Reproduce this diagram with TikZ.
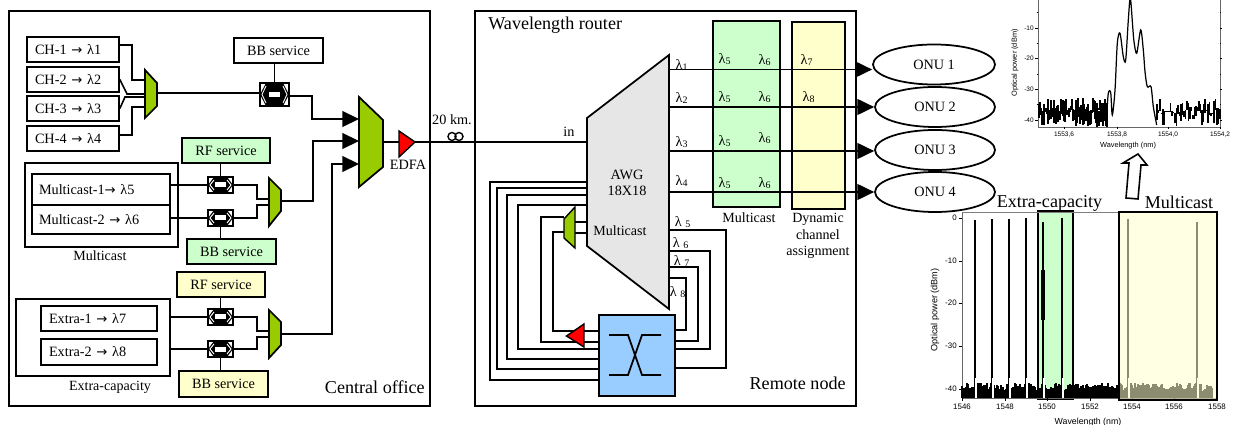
\documentclass[tikz,border=0pt]{standalone}
\usepackage{fontspec}
\setmainfont{Liberation Serif}
\setsansfont{Liberation Sans}
\newfontfamily\arrowfont{DejaVu Sans}
\usetikzlibrary{arrows.meta,shapes.geometric}

\def\px{0.02cm}
\definecolor{mcgreen}{RGB}{204,255,204}
\definecolor{exyellow}{RGB}{255,255,204}
\definecolor{muxgreen}{RGB}{153,204,0}
\definecolor{swblue}{RGB}{153,204,255}
\definecolor{awggray}{RGB}{230,230,230}
\newcommand{\boxfont}{\fontsize{8.1}{9.5}\selectfont}
\newcommand{\tagfont}{\fontsize{8}{9.4}\selectfont}
\newcommand{\bigfont}{\fontsize{10.3}{12}\selectfont}
\newcommand{\tickfont}{\sffamily\fontsize{3.7}{4.2}\selectfont}
\newcommand{\wideticks}{\sffamily\fontsize{4.5}{5}\selectfont}
\newcommand{\toarrow}{{\arrowfont\fontsize{7.5}{9}\selectfont →}}
\tikzset{
  wh/.style 2 args={minimum width=#1*\px,minimum height=#2*\px},
  frame/.style={draw,line width=1pt},
  block/.style={draw,line width=1pt,inner sep=0pt,font=\boxfont},
  leftblock/.style 2 args={draw,line width=1pt,inner ysep=0pt,inner xsep=8*\px,
    minimum height=#2*\px,text width=(#1-16)*\px,align=left,font=\boxfont},
  group/.style={draw,line width=.9pt,inner sep=0pt},
  link/.style={line width=.9pt},
  muxshape/.style={draw,fill=muxgreen,line width=1pt,line join=miter},
  ampshape/.style={draw,fill=red,line width=.8pt},
  tag/.style={inner sep=0pt,font=\tagfont},
  title/.style={inner sep=0pt,font=\bigfont},
  onu/.style={ellipse,draw,line width=1pt,inner sep=0pt,font=\boxfont},
  lam/.style={inner sep=0pt,font=\boxfont},
  tick/.style={inner sep=0pt,font=\tickfont},
  spectrum/.style={line width=.6pt},
  axisline/.style={line width=.5pt,black!60},
  >={Triangle[length=9.5pt,width=9pt]}
}
%% name, x, y, half width, half height
\newcommand{\coupler}[5]{
  \node[draw,line width=.8pt,fill=white,inner sep=0pt,wh={2*#4}{2*#5}] (#1) at (#2,#3) {};
  \begin{scope}[shift={(#1.center)}]
    \fill (-#4,0)--(-#4+6,-#5)--(#4-6,-#5)--(#4,0)--(#4-6,#5)--(-#4+6,#5)--cycle;
    \draw[white,line width=.5pt] (-#4+6,-#5+3)--(-#4+2,0)--(-#4+6,#5-3);
    \draw[white,line width=.5pt] (#4-6,-#5+3)--(#4-2,0)--(#4-6,#5-3);
    \fill[white] (-5.5,-2.5) rectangle (5.5,2.5);
  \end{scope}
}

\begin{document}
\begin{tikzpicture}[x=\px,y=-\px]
\path[use as bounding box,clip] (0,0) rectangle (1233,425);

%%Central office
\node[frame,wh={421}{395},inner sep=0pt] (office) at (219.5,208.5) {};
\node[title,anchor=east] (officetag) at (425,387) {Central office};

%%Channels
\node[leftblock={92}{25}] (ch1) at (73,49.5) {CH-1 \toarrow{} λ1};
\node[leftblock={92}{25}] (ch2) at (73,79.5) {CH-2 \toarrow{} λ2};
\node[leftblock={92}{25}] (ch3) at (73,108.5) {CH-3 \toarrow{} λ3};
\node[leftblock={92}{25}] (ch4) at (73,138.5) {CH-4 \toarrow{} λ4};
\draw[muxshape] (145,70)--(157,83)--(157,106)--(145,118)--cycle;
\coordinate (mux1a) at (145,80);
\coordinate (mux1b) at (145,94);
\coordinate (mux1c) at (145,97);
\coordinate (mux1d) at (145,107);
\coordinate (mux1out) at (157,93);
\draw[link] (ch1.east|-0,45)--(132,45)|-(mux1a);
\draw[link] (ch2.east)--(127,94)--(mux1b);
\draw[link] (ch3.east)--(125,97)--(mux1c);
\draw[link] (ch4.east|-0,135)--(132,135)|-(mux1d);
\node[block,wh={89}{25}] (bb1) at (278.5,50.5) {BB service};
\coupler{cp1}{274.5}{94.5}{14.5}{11.5}
\draw[link] (bb1.south-|cp1)--(cp1.north);
\draw[link] (mux1out)--(cp1.west|-mux1out);

%%Multicast
\node[group,wh={153}{84}] (mcgroup) at (101.5,205) {};
\node[tag] (mctag) at (100,256) {Multicast};
\node[leftblock={140}{31},inner xsep=7*\px] (mc1) at (101,189.5) {Multicast-1\toarrow{} λ5};
\node[leftblock={140}{29},inner xsep=7*\px] (mc2) at (101,219.5) {Multicast-2 \toarrow{} λ6};
\node[block,fill=mcgreen,wh={88}{25}] (rf2) at (226,150.5) {RF service};
\node[block,fill=mcgreen,wh={89}{25}] (bb2) at (231.5,251.5) {BB service};
\coupler{cp2}{220.5}{185}{12.5}{8}
\coupler{cp3}{220.5}{218}{12.5}{8}
\draw[muxshape] (269,178)--(281,190)--(281,211)--(269,226)--cycle;
\coordinate (mux2a) at (269,199);
\coordinate (mux2b) at (269,205);
\coordinate (mux2out) at (281,201);
\draw[link] (mc1.east|-cp2)--(cp2.west);
\draw[link] (mc2.east|-cp3)--(cp3.west);
\draw[link] (rf2.south-|cp2)--(cp2.north);
\draw[link] (bb2.north-|cp3)--(cp3.south);
\draw[link] (cp2.east)--(257,185)|-(mux2a);
\draw[link] (cp3.east)--(257,218)|-(mux2b);

%%Extra-capacity
\node[group,wh={154}{77}] (exgroup) at (93,337.5) {};
\node[tag] (extag) at (110,387) {Extra-capacity};
\node[leftblock={116}{25}] (ex1) at (99,318.5) {Extra-1 \toarrow{} λ7};
\node[leftblock={116}{26}] (ex2) at (99,352) {Extra-2 \toarrow{} λ8};
\node[block,fill=exyellow,wh={88}{25}] (rf3) at (221,284.5) {RF service};
\node[block,fill=exyellow,wh={89}{26}] (bb3) at (223.5,384) {BB service};
\coupler{cp4}{220.5}{317}{12.5}{8}
\coupler{cp5}{220.5}{349}{12.5}{8}
\draw[muxshape] (269,310)--(281,322)--(281,345)--(269,358)--cycle;
\coordinate (mux3a) at (269,331);
\coordinate (mux3b) at (269,337);
\coordinate (mux3out) at (281,334);
\draw[link] (exgroup.east|-cp4)--(cp4.west);
\draw[link] (exgroup.east|-cp5)--(cp5.west);
\draw[link] (rf3.south-|cp4)--(cp4.north);
\draw[link] (bb3.north-|cp5)--(cp5.south);
\draw[link] (cp4.east)--(257,317)|-(mux3a);
\draw[link] (cp5.east)--(257,349)|-(mux3b);

%%Main mux and EDFA
\draw[muxshape] (359,97)--(383,120)--(383,167)--(359,187)--cycle;
\coordinate (bigin1) at (359,119);
\coordinate (bigin2) at (359,141);
\coordinate (bigin3) at (359,164);
\coordinate (bigout) at (383,142);
\draw[link,->] (cp1.east|-0,96)--(312,96)|-(bigin1);
\draw[link,->] (mux2out)--(313,201)|-(bigin2);
\draw[link,->] (mux3out)--(332,334)|-(bigin3);

%%Wavelength router
\node[frame,wh={381}{395},inner sep=0pt] (router) at (665.5,208.5) {};
\node[title,anchor=west] (routertag) at (488,25) {Wavelength router};
\node[title,anchor=east] (nodetag) at (846,383) {Remote node};
\node[draw,line width=1pt,fill=mcgreen,inner sep=0pt,wh={67}{186}] (mcband) at (746.5,114) {};
\node[draw,line width=1pt,fill=exyellow,inner sep=0pt,wh={53}{187}] (exband) at (818.5,115.5) {};
\node[tag] (mcbandtag) at (749,218) {Multicast};
\node[tag,align=center,font=\fontsize{8}{9.4}\selectfont] (exbandtag) at (818,236) {Dynamic\\channel\\assignment};

%%AWG
\draw[line width=1pt,fill=awggray] (587,118)--(669,55)--(669,309)--(587,246)--cycle;
\coordinate (awgleft) at (587,180);
\coordinate (awgright) at (669,180);
\node[tag,align=center,font=\boxfont] (awgtag) at (627,183) {AWG\\18X18};
\node[tag] (awgmc) at (620,231) {Multicast};
\node[lam] (intag) at (569,132) {in};

%%Fibre
\draw[ampshape] (399,131)--(415,142)--(399,157)--cycle;
\coordinate (edfain) at (399,142);
\coordinate (edfaout) at (415,142);
\node[tag,font=\boxfont] (edfatag) at (408,165) {EDFA};
\draw[link] (bigout)--(edfain);
\draw[link] (edfaout)--(awgleft|-edfaout);
\node[draw,circle,line width=.8pt,inner sep=0pt,minimum size=8*\px] (coil1) at (452,136.5) {};
\node[draw,circle,line width=.8pt,inner sep=0pt,minimum size=8*\px] (coil2) at (459,136.5) {};
\node[tag,font=\boxfont] (kmtag) at (452,120) {20 km.};

%%ONU
\node[onu,wh={122}{40}] (onu1) at (934,64.5) {ONU 1};
\node[onu,wh={120}{40}] (onu2) at (935,107) {ONU 2};
\node[onu,wh={120}{40}] (onu3) at (935,150) {ONU 3};
\node[onu,wh={120}{40}] (onu4) at (935,192) {ONU 4};
\foreach \n/\y in {1/69.5,2/107,3/151,4/192}
  \draw[link,->] (awgright|-0,\y)--(onu\n.west|-0,\y);

%%Wavelength labels
\node[lam] (l1) at (682,65) {λ\textsubscript{1}};
\node[lam] (l2) at (682,98) {λ\textsubscript{2}};
\node[lam] (l3) at (682,142) {λ\textsubscript{3}};
\node[lam] (l4) at (682,181) {λ\textsubscript{4}};
\foreach \n/\ya/\yb in {1/59/60,2/97/97,3/141/138,4/183/183}{
  \node[lam] (mca\n) at (725,\ya) {λ\textsubscript{5}};
  \node[lam] (mcb\n) at (765,\yb) {λ\textsubscript{6}};
}
\node[lam] (l7) at (807,60) {λ\textsubscript{7}};
\node[lam] (l8) at (809,97) {λ\textsubscript{8}};
\node[lam] (r5) at (683,222) {λ \textsubscript{5}};
\node[lam] (r6) at (681,243) {λ \textsubscript{6}};
\node[lam] (r7) at (682,261) {λ \textsubscript{7}};
\node[lam] (r8) at (678,292) {λ \textsubscript{8}};

%%Switch and loops
\node[draw,line width=1pt,fill=swblue,inner sep=0pt,wh={76}{81}] (switch) at (637,355.5) {};
\draw[line width=1pt] (609,335)--(628,335)--(642,375)--(661,375);
\draw[line width=1pt] (609,375)--(628,375)--(642,335)--(661,335);
\foreach \a/\b/\c in {230/726/368,251/710/349,267/698/341,278/686/330}
  \draw[link] (awgright|-0,\a)-|(\b,\c)--(switch.east|-0,\c);
\foreach \a/\b/\c in {182/490/380,188/497/369,195/507/359,205/518/349}
  \draw[link] (awgleft|-0,\a)-|(\b,\c)--(switch.west|-0,\c);
\draw[muxshape,line width=.8pt] (575,207)--(575,248)--(564,238)--(564,219)--cycle;
\draw[link] (575,222)--(awgleft|-0,222);
\draw[link] (575,233)--(awgleft|-0,233);
\draw[link] (564,217)--(541,217)--(541,342)--(switch.west|-0,342);
\draw[link] (564,232)--(553,232)--(553,331)--(switch.west|-0,331);
\draw[ampshape] (584,324)--(584,347)--(566.5,336)--cycle;

%%Narrow spectrum
\pgfmathsetseed{11}
\draw[axisline] (1038,0)--(1038,127)--(1220,127)--(1220,0);
\foreach \y/\t in {28/-10,58.5/-20,89/-30,120/-40}{
  \draw[axisline,black] (1035,\y)--(1038,\y);
  \draw[axisline,black] (1220,\y)--(1222,\y);
  \node[tick,anchor=east] (ya\t) at (1034,\y) {\t};
}
\foreach \y in {12.5,43,74,104.5}{
  \draw[axisline,black] (1036.5,\y)--(1038,\y);
  \draw[axisline,black] (1220,\y)--(1221,\y);
}
\foreach \x/\t in {1064/1553{,}6,1117/1553{,}8,1168/1554{,}0,1220/1554{,}2}{
  \draw[axisline,black] (\x,127)--(\x,129.5);
  \node[tick] at (\x,135) {\t};
}
\node[tick,rotate=90,font=\sffamily\fontsize{4.2}{5}\selectfont] (ylaba) at (1015,63) {Optical power (dBm)};
\node[tick,font=\sffamily\fontsize{4.2}{5}\selectfont] (xlaba) at (1128,146) {Wavelength (nm)};
\foreach \i in {1039,1040,...,1107}
  \draw[spectrum] (\i,{118+9*rand})--(\i,{106+8*rand});
\foreach \i in {1157,1158.5,...,1220}
  \draw[spectrum] (\i,{118+9*rand})--(\i,{107+8*rand});
\draw[line width=.7pt] plot[smooth,tension=.5] coordinates {(1106.7,115) (1108.3,93.3) (1110.7,92.7) (1112.3,115) (1115,90) (1117.3,43.3) (1120,33.3) (1123.3,56.7) (1125.7,60) (1128.3,20) (1130.3,-2) (1132.7,26.7) (1134,41.7) (1136.7,53.3) (1140.7,30) (1143.3,50) (1145,71.7) (1147.3,86.7) (1151,86.7) (1153.3,106.7) (1156.7,125)};
\draw[line width=.9pt] (1138,154)--(1147,165)--(1141,165)--(1138,199)--(1126,198)--(1129,163)--(1123,163)--cycle;

%%Wide spectrum
\node[draw,line width=1pt,fill=mcgreen,inner sep=0pt,wh={35}{188}] (greenband) at (1055.5,305) {};
\draw[axisline] (962,212)--(962,398)--(1217,398);
\draw[axisline,black!50] (962,212)--(1217,212);
\foreach \y/\t in {218/0,261/-10,303/-20,346/-30,389/-40}{
  \draw[axisline,black] (958.5,\y)--(962,\y);
  \node[tick,anchor=east,font=\wideticks] (yb\t) at (957,\y) {\t};
}
\foreach \x/\t in {962/1546,1005/1548,1047/1550,1090/1552,1132/1554,1174/1556,1217/1558}{
  \draw[axisline,black] (\x,398)--(\x,400.5);
  \node[tick,font=\wideticks] at (\x,407) {\t};
}
\node[tick,rotate=90,font=\sffamily\fontsize{5.2}{6}\selectfont] (ylabb) at (935,310) {Optical power (dBm)};
\node[tick,font=\sffamily\fontsize{5}{6}\selectfont] (xlabb) at (1088,422) {Wavelength (nm)};
\foreach \i in {962,963,...,1212}
  \draw[line width=.7pt] (\i,398)--(\i,{387+4*rand});
\foreach \x/\y in {975/220,992/219,1009/219,1026/218,1043/222,1062/218,1128/219,1197/222}{
  \draw[line width=.9pt] (\x,\y)--(\x,392);
  \draw[line width=.6pt,white] (\x+1,378)--(\x+1,398);
}
\draw[line width=1.8pt] (1043,270)--(1043,320);
\node[draw,line width=1.2pt,fill=exyellow,fill opacity=.55,inner sep=0pt,wh={98}{188}] (yellowband) at (1168,306) {};
\node[title,font=\fontsize{10.3}{12}\selectfont] (extitle) at (1049.5,203) {Extra-capacity};
\node[title] (mctitle) at (1179,202) {Multicast};
\end{tikzpicture}
\end{document}
